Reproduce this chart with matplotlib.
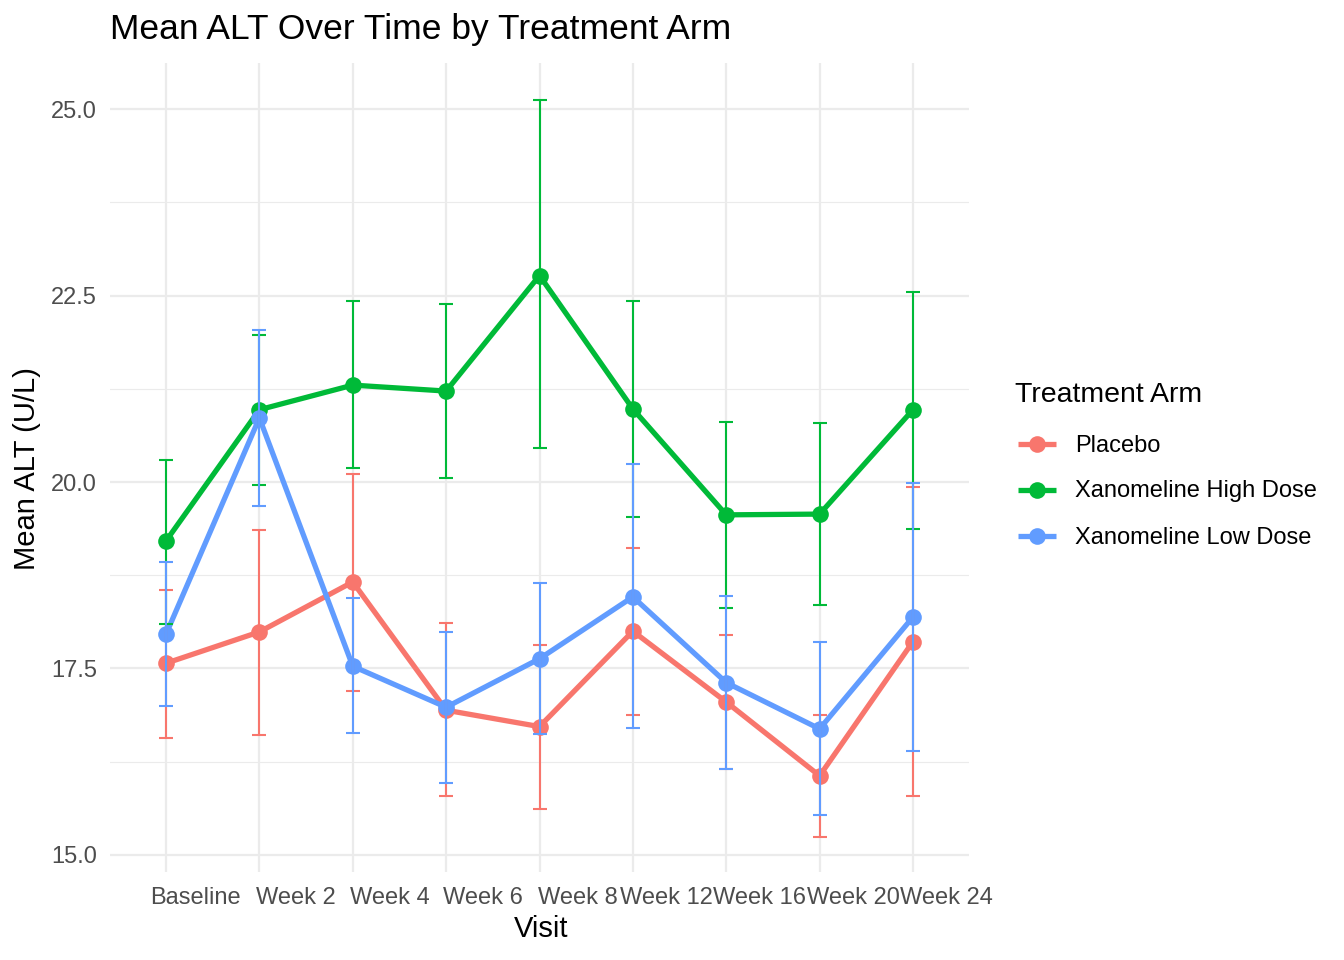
import matplotlib
matplotlib.use("Agg")
import matplotlib.pyplot as plt
import matplotlib.transforms as mtransforms
from matplotlib.lines import Line2D

plt.rcParams['font.family'] = ['Liberation Sans', 'DejaVu Sans']

visits = ["Baseline", "Week 2", "Week 4", "Week 6", "Week 8", "Week 12", "Week 16", "Week 20", "Week 24"]
arms = ["Placebo", "Xanomeline High Dose", "Xanomeline Low Dose"]
colors = ["#F8766D", "#00BA38", "#619CFF"]

placebo_mean = [17.57, 17.99, 18.66, 16.94, 16.72, 18.00, 17.05, 16.06, 17.86]
placebo_lo   = [16.57, 16.61, 17.20, 15.79, 15.62, 16.88, 16.15, 15.24, 15.79]
placebo_hi   = [18.55, 19.36, 20.11, 18.11, 17.82, 19.12, 17.95, 16.88, 19.93]

high_mean = [19.21, 20.97, 21.30, 21.22, 22.77, 20.98, 19.56, 19.57, 20.97]
high_lo   = [18.10, 19.96, 20.19, 20.05, 20.46, 19.53, 18.31, 18.35, 19.37]
high_hi   = [20.29, 21.97, 22.43, 22.39, 25.12, 22.43, 20.80, 20.79, 22.55]

low_mean = [17.96, 20.86, 17.53, 16.98, 17.63, 18.46, 17.31, 16.69, 18.19]
low_lo   = [17.00, 19.68, 16.64, 15.97, 16.62, 16.70, 16.15, 15.54, 16.39]
low_hi   = [18.93, 22.04, 18.45, 17.99, 18.65, 20.24, 18.47, 17.86, 19.99]

means = [placebo_mean, high_mean, low_mean]
los = [placebo_lo, high_lo, low_lo]
his = [placebo_hi, high_hi, low_hi]

# layout: left-edge offset (px) of each x tick label relative to its tick
label_dx = [-16, -3, -3, -3, -2, -13, -13, -13, -13]

W, H = 1344, 960
fig = plt.figure(figsize=(W / 100, H / 100), dpi=100)
ax = fig.add_axes([110 / W, 1 - 872 / H, (969 - 110) / W, (872 - 63) / H])

x = list(range(len(visits)))
LW = 3.8
MS = 12

for m, c in zip(means, colors):
    ax.plot(x, m, color=c, lw=LW, zorder=3, solid_capstyle='butt', solid_joinstyle='round')
for m, c in zip(means, colors):
    ax.plot(x, m, 'o', color=c, ms=MS, zorder=4, markeredgewidth=0)
for m, lo, hi, c in zip(means, los, his, colors):
    yerr = [[mm - l for mm, l in zip(m, lo)], [h - mm for mm, h in zip(m, hi)]]
    ax.errorbar(x, m, yerr=yerr, fmt='none', ecolor=c, elinewidth=1.5,
                capsize=5, capthick=1.5, zorder=5)

ax.set_xlim(-0.6, len(visits) - 1 + 0.6)
ax.set_ylim(14.77, 25.62)
ax.set_xticks(x)
ax.set_xticklabels(visits)
ax.set_yticks([15.0, 17.5, 20.0, 22.5, 25.0])
ax.set_yticklabels(["15.0", "17.5", "20.0", "22.5", "25.0"])
ax.set_yticks([16.25, 18.75, 21.25, 23.75], minor=True)

ax.grid(True, which='major', color='#EBEBEB', lw=1.6, zorder=0)
ax.grid(True, which='minor', axis='y', color='#EBEBEB', lw=0.8, zorder=0)
ax.set_axisbelow(True)
for s in ax.spines.values():
    s.set_visible(False)
ax.tick_params(axis='x', which='both', length=0, labelsize=17, colors='#4D4D4D', pad=10.5)
ax.tick_params(axis='y', which='both', length=0, labelsize=17, colors='#4D4D4D', pad=9.4)

for lab, dx in zip(ax.get_xticklabels(), label_dx):
    lab.set_horizontalalignment('left')
    lab.set_transform(lab.get_transform() + mtransforms.ScaledTranslation(dx / 100, 0, fig.dpi_scale_trans))

fig.text(541 / W, 1 - 929 / H, "Visit", fontsize=21, ha='center', va='center')
fig.text(27 / W, 1 - 469 / H, "Mean ALT (U/L)", fontsize=21, ha='center', va='center', rotation=90)
fig.text(110 / W, 1 - 30 / H, "Mean ALT Over Time by Treatment Arm", fontsize=25.5,
         ha='left', va='center')

# legend
fig.text(1015 / W, 1 - 395 / H, "Treatment Arm", fontsize=20.5, ha='left', va='center')
key_y = [444, 490, 536]
for ky, c, name in zip(key_y, colors, arms):
    yy = 1 - ky / H
    fig.add_artist(Line2D([1018 / W, 1056 / W], [yy, yy], color=c, lw=LW,
                          transform=fig.transFigure, solid_capstyle='butt'))
    fig.add_artist(Line2D([1037 / W], [yy], color=c, marker='o', ms=MS, markeredgewidth=0,
                          transform=fig.transFigure))
    fig.text(1075 / W, 1 - (ky + 1.5) / H, name, fontsize=17, ha='left', va='center')

fig.savefig("out.png", dpi=100)
